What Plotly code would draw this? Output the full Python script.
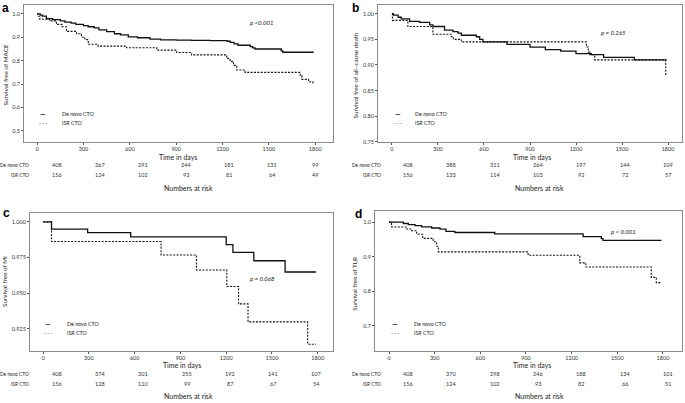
import plotly.graph_objects as go

W, H = 685, 403
FONT = "Lato"

# ---------------- data ----------------
tick_days = [0, 300, 600, 900, 1200, 1500, 1800]

# Panel a: MACE
a_denovo_t = [0, 20, 35, 60, 100, 150, 180, 220, 250, 300, 330, 370, 400, 450, 500, 540, 590, 650, 730, 800, 900, 1000, 1120, 1230, 1250, 1275, 1300, 1380, 1395, 1410, 1580, 1590, 1790]
a_denovo_s = [1.0, 0.995, 0.99, 0.98, 0.975, 0.97, 0.965, 0.96, 0.955, 0.95, 0.945, 0.94, 0.932, 0.924, 0.915, 0.91, 0.902, 0.898, 0.892, 0.889, 0.888, 0.887, 0.886, 0.883, 0.878, 0.872, 0.866, 0.86, 0.855, 0.85, 0.842, 0.836, 0.836]
a_isr_t = [0, 5, 17, 80, 125, 160, 190, 255, 287, 309, 331, 395, 579, 774, 903, 1000, 1227, 1249, 1271, 1292, 1346, 1703, 1714, 1757, 1785, 1790]
a_isr_s = [1.0, 0.99, 0.977, 0.97, 0.955, 0.945, 0.925, 0.915, 0.90, 0.89, 0.87, 0.862, 0.855, 0.845, 0.835, 0.825, 0.81, 0.797, 0.78, 0.76, 0.75, 0.735, 0.72, 0.71, 0.70, 0.70]

# Panel b: all-cause death
b_denovo_t = [0, 10, 40, 61, 115, 180, 246, 267, 343, 398, 430, 452, 550, 572, 593, 750, 900, 1000, 1100, 1200, 1300, 1380, 1580, 1790]
b_denovo_s = [1.0, 0.997, 0.993, 0.99, 0.985, 0.983, 0.978, 0.975, 0.968, 0.965, 0.962, 0.958, 0.955, 0.95, 0.945, 0.94, 0.935, 0.93, 0.927, 0.922, 0.92, 0.915, 0.91, 0.91]
b_isr_t = [0, 3, 104, 267, 387, 400, 452, 1267, 1280, 1290, 1322, 1785, 1790]
b_isr_s = [1.0, 0.987, 0.975, 0.96, 0.955, 0.95, 0.945, 0.935, 0.925, 0.92, 0.91, 0.88, 0.88]

# Panel c: MI
c_denovo_t = [0, 55, 292, 574, 1200, 1244, 1381, 1586, 1789]
c_denovo_s = [1.0, 0.9949, 0.9925, 0.9895, 0.984, 0.9786, 0.9727, 0.9648, 0.9648]
c_isr_t = [0, 55, 773, 1005, 1204, 1281, 1343, 1734, 1789]
c_isr_s = [1.0, 0.9862, 0.9767, 0.9662, 0.9546, 0.9424, 0.9297, 0.914, 0.914]

# Panel d: TLR
d_denovo_t = [0, 94, 127, 171, 214, 280, 335, 374, 433, 695, 1275, 1395, 1406, 1790]
d_denovo_s = [1.0, 0.996, 0.993, 0.99, 0.986, 0.983, 0.98, 0.973, 0.97, 0.966, 0.958, 0.952, 0.947, 0.947]
d_isr_t = [0, 17, 116, 149, 182, 221, 291, 313, 324, 914, 1253, 1293, 1723, 1756, 1790]
d_isr_s = [1.0, 0.986, 0.98, 0.975, 0.965, 0.953, 0.943, 0.93, 0.914, 0.904, 0.882, 0.87, 0.84, 0.825, 0.825]

# Numbers at risk
a_risk_denovo = [408, 367, 291, 244, 181, 131, 99]
a_risk_isr = [156, 124, 102, 93, 81, 64, 49]
b_risk_denovo = [408, 388, 311, 264, 197, 144, 109]
b_risk_isr = [156, 133, 114, 103, 92, 72, 57]
c_risk_denovo = [408, 374, 301, 255, 192, 141, 107]
c_risk_isr = [156, 128, 110, 99, 87, 67, 54]
d_risk_denovo = [408, 370, 298, 246, 188, 134, 101]
d_risk_isr = [156, 124, 102, 93, 82, 66, 51]

group_names = ["De novo CTO", "ISR CTO"]
panel_letters = ["a", "b", "c", "d"]
y_titles = ["Survival free of MACE", "Survival free of all\u2013cause death", "Survival free of MI", "Survival free of TLR"]
p_texts = ["p <0.001", "p = 0.265", "p = 0.068", "p < 0.001"]

# ---------------- layout helpers ----------------
def fx(x):
    return x / W

def fy(y):
    return 1 - y / H

panels = [
    dict(box=(24, 333, 5, 143), xr=[-85, 1915], yr=[0.453, 1.038], yt=[0.5, 0.6, 0.7, 0.8, 0.9, 1.0], yfmt=".1f",
         risk=(57, 315), rowlab=30, ytx=5, ytitle_y=76, letter=(1, 0), p=(261, 23),
         leg_line=(43, 115, 124), leg_text=60, tlab=158, rows=(166, 176), nar=189, cx=178, ncx=188,
         t=(a_denovo_t, a_isr_t), s=(a_denovo_s, a_isr_s), r=(a_risk_denovo, a_risk_isr)),
    dict(box=(378, 682, 5, 143), xr=[-91, 1891], yr=[0.75, 1.017], yt=[0.75, 0.80, 0.85, 0.90, 0.95, 1.00], yfmt=".2f",
         risk=(408, 668), rowlab=382, ytx=355, ytitle_y=76, letter=(351, 0), p=(613, 33),
         leg_line=(398, 115, 124), leg_text=413, tlab=158, rows=(166, 176), nar=189, cx=532, ncx=539,
         t=(b_denovo_t, b_isr_t), s=(b_denovo_s, b_isr_s), r=(b_risk_denovo, b_risk_isr)),
    dict(box=(30, 333, 215, 354), xr=[-86, 1900], yr=[0.909, 1.006], yt=[0.925, 0.950, 0.975, 1.000], yfmt=".3f",
         risk=(57, 316), rowlab=30, ytx=5, ytitle_y=284, letter=(2, 207), p=(262, 281),
         leg_line=(48, 326, 335), leg_text=65, tlab=368, rows=(377, 387), nar=399, cx=182, ncx=188,
         t=(c_denovo_t, c_isr_t), s=(c_denovo_s, c_isr_s), r=(c_risk_denovo, c_risk_isr)),
    dict(box=(375, 682, 213, 354), xr=[-92, 1925], yr=[0.626, 1.031], yt=[0.7, 0.8, 0.9, 1.0], yfmt=".1f",
         risk=(408, 668), rowlab=382, ytx=355, ytitle_y=286, letter=(354, 208), p=(623, 233),
         leg_line=(395, 326, 336), leg_text=412, tlab=368, rows=(377, 387), nar=399, cx=532, ncx=539,
         t=(d_denovo_t, d_isr_t), s=(d_denovo_s, d_isr_s), r=(d_risk_denovo, d_risk_isr)),
]

fig = go.Figure()
annotations = []
layout = dict(
    width=W, height=H,
    margin=dict(l=0, r=0, t=0, b=0),
    paper_bgcolor="white", plot_bgcolor="rgba(0,0,0,0)",
    showlegend=False,
    font=dict(family=FONT, color="#222"),
)

line_styles = [dict(color="#111111", width=1.3), dict(color="#111111", width=1.1, dash="2px,1.4px")]
legend_glyphs = ["<b>\u2014</b>", "- - -"]

for i, P in enumerate(panels):
    k = i + 1
    xa = "x" if k == 1 else f"x{k}"
    ya = "y" if k == 1 else f"y{k}"
    rk = k + 4  # hidden axis for risk table
    x0, x1, y0, y1 = P["box"]
    for g in range(2):
        fig.add_trace(go.Scatter(
            x=P["t"][g], y=P["s"][g], mode="lines", line_shape="hv",
            line=line_styles[g], xaxis=xa, yaxis=ya, name=group_names[g],
            hoverinfo="skip"))
    axstyle = dict(showline=True, mirror=True, linecolor="#8a8a8a", linewidth=1,
                   showgrid=False, zeroline=False, ticks="outside", ticklen=2,
                   tickcolor="#555", tickwidth=1, tickfont=dict(size=5.5, color="#333", family=FONT))
    layout[f"xaxis{k if k > 1 else ''}"] = dict(
        domain=[fx(x0), fx(x1)], range=P["xr"], anchor=ya, tickvals=tick_days,
        ticktext=[str(v) for v in tick_days], ticklabelstandoff=-1, **axstyle)
    layout[f"yaxis{k if k > 1 else ''}"] = dict(
        domain=[fy(y1), fy(y0)], range=P["yr"], anchor=xa, tickvals=P["yt"],
        tickformat=P["yfmt"], **axstyle)
    # hidden axis for numbers at risk
    layout[f"xaxis{rk}"] = dict(domain=[fx(P["risk"][0]), fx(P["risk"][1])], range=[0, 1800],
                                anchor=ya, visible=False, showgrid=False, zeroline=False)
    fig.add_trace(go.Scatter(x=[0, 1800], y=[None, None], xaxis=f"x{rk}", yaxis=ya,
                             showlegend=False, hoverinfo="skip"))
    # numbers at risk
    for g in range(2):
        for d, n in zip(tick_days, P["r"][g]):
            annotations.append(dict(xref=f"x{rk}", yref="paper", x=d, y=fy(P["rows"][g]),
                                    text=str(n), showarrow=False, font=dict(size=5.5, color="#333"),
                                    xanchor="center", yanchor="middle"))
        annotations.append(dict(xref="paper", yref="paper", x=fx(P["rowlab"]), y=fy(P["rows"][g]),
                                text=group_names[g], showarrow=False, font=dict(size=4.8, color="#222"),
                                xanchor="right", yanchor="middle", borderpad=0))
    # axis captions
    annotations.append(dict(xref="paper", yref="paper", x=fx(P["cx"]), y=fy(P["tlab"]), text="Time in days",
                            showarrow=False, font=dict(size=7, color="#222"), xanchor="center", yanchor="middle"))
    annotations.append(dict(xref="paper", yref="paper", x=fx(P["ncx"]), y=fy(P["nar"]), text="Numbers at risk",
                            showarrow=False, font=dict(size=7, color="#222"), xanchor="center", yanchor="middle"))
    annotations.append(dict(xref="paper", yref="paper", x=fx(P["ytx"]), y=fy(P["ytitle_y"]), text=y_titles[i],
                            textangle=-90, showarrow=False, font=dict(size=6.3, color="#222"),
                            xanchor="center", yanchor="middle"))
    # panel letter
    annotations.append(dict(xref="paper", yref="paper", x=fx(P["letter"][0]), y=fy(P["letter"][1]),
                            text=f"<b>{panel_letters[i]}</b>", showarrow=False, borderpad=0,
                            font=dict(size=12, color="#000", family="Liberation Sans"),
                            xanchor="left", yanchor="top"))
    # p-value
    annotations.append(dict(xref="paper", yref="paper", x=fx(P["p"][0]), y=fy(P["p"][1]),
                            text=f"<i>{p_texts[i]}</i>", showarrow=False, font=dict(size=6, color="#222"),
                            xanchor="center", yanchor="middle"))
    # legend (text only)
    lx, ly1, ly2 = P["leg_line"]
    for g, ly in enumerate([ly1, ly2]):
        annotations.append(dict(xref="paper", yref="paper", x=fx(lx), y=fy(ly), text=legend_glyphs[g],
                                showarrow=False, font=dict(size=7 if g == 0 else 5, color="#111"),
                                xanchor="center", yanchor="middle"))
        annotations.append(dict(xref="paper", yref="paper", x=fx(P["leg_text"]), y=fy(ly), text=group_names[g],
                                showarrow=False, font=dict(size=5.3, color="#222"),
                                xanchor="left", yanchor="middle"))

layout["annotations"] = annotations
fig.update_layout(**layout)
fig.write_html("out.html", config={"displayModeBar": False},
               post_script="document.body.style.margin='0px';")
